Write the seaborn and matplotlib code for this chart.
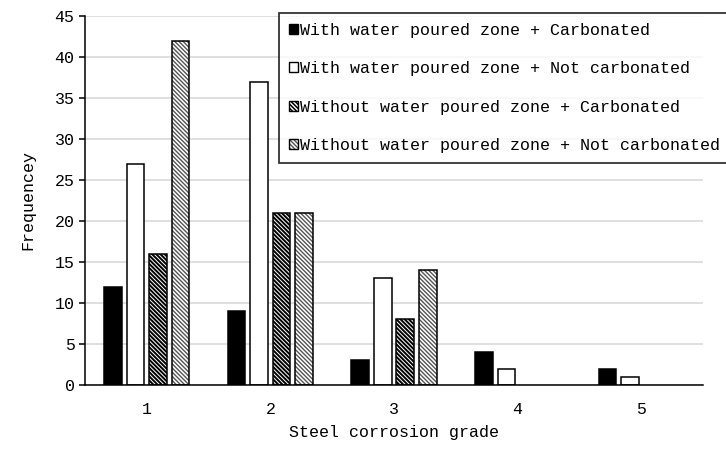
import matplotlib
matplotlib.use("Agg")
import matplotlib.pyplot as plt
from matplotlib.patches import Patch
from matplotlib.colors import to_rgba
import seaborn as sns
import pandas as pd

grades = ["1", "2", "3", "4", "5"]
series = [
    "With water poured zone + Carbonated",
    "With water poured zone + Not carbonated",
    "Without water poured zone + Carbonated",
    "Without water poured zone + Not carbonated",
]
with_carb = [12, 9, 3, 4, 2]
with_not_carb = [27, 37, 13, 2, 1]
without_carb = [16, 21, 8, 0, 0]
without_not_carb = [42, 21, 14, 0, 0]

df = pd.DataFrame({
    "grade": grades * 4,
    "series": [s for s in series for _ in grades],
    "count": with_carb + with_not_carb + without_carb + without_not_carb,
})

sns.set_theme(style="white")
plt.rcParams["font.family"] = ["Liberation Mono", "DejaVu Sans Mono"]
plt.rcParams["hatch.linewidth"] = 1.0

# face, hatch, hatch colour, hatch width per series
styles = [
    ("black", "", "black", 1.0),
    ("white", "", "black", 1.0),
    ("black", "\\" * 8, "white", 0.7),
    ("white", "\\" * 8, "#555555", 1.0),
]


def style_patch(p, fc, hatch, hc, hw):
    p.set_facecolor(fc)
    p.set_edgecolor("black")
    p.set_hatch(hatch)
    p._hatch_color = to_rgba(hc)
    if hasattr(p, "set_hatch_linewidth"):
        p.set_hatch_linewidth(hw)


fig = plt.figure(figsize=(7.26, 4.5), dpi=100)
ax = fig.add_axes([85 / 726, 1 - 385 / 450, (703 - 85) / 726, (385 - 16) / 450])

sns.barplot(data=df, x="grade", y="count", hue="series", hue_order=series,
            width=0.73, gap=0.22, legend=False, ax=ax)

for cont, st in zip(ax.containers, styles):
    for p in cont:
        style_patch(p, *st)
        p.set_linewidth(1.1)
        if p.get_height() == 0:
            p.set_visible(False)

ax.set_ylim(0, 45)
ax.set_xlim(-0.5, 4.5)
ax.set_yticks(range(0, 46, 5))
ax.yaxis.grid(True, color="#d9d9d9", linewidth=1.2)
ax.set_axisbelow(True)
for s in ["top", "right"]:
    ax.spines[s].set_visible(False)
for s in ["left", "bottom"]:
    ax.spines[s].set_color("black")
    ax.spines[s].set_linewidth(1.1)

ax.set_xticks([i - 0.5 for i in range(6)], minor=True)
ax.tick_params(axis="x", which="major", length=0, pad=12, labelsize=12, colors="black")
ax.tick_params(axis="x", which="minor", length=5, width=1.1, color="black", direction="out")
ax.tick_params(axis="y", length=4, width=1.1, color="black", direction="out",
               left=True, labelsize=12, labelcolor="black")

ax.set_xlabel("Steel corrosion grade", fontsize=12, color="black", labelpad=6)
ax.set_ylabel("Frequencey", fontsize=12, color="black", labelpad=14)

handles = []
for st in styles:
    h = Patch(linewidth=1.0)
    style_patch(h, *st)
    handles.append(h)

leg = fig.legend(handles, series, loc="upper left", bbox_to_anchor=(279 / 726, 1 - 13 / 450),
                 frameon=True, fancybox=False, fontsize=12, handlelength=0.55,
                 handleheight=0.55, handletextpad=0.1, labelspacing=1.4,
                 borderpad=0.6, borderaxespad=0)
leg.get_frame().set_edgecolor("black")
leg.get_frame().set_linewidth(1.3)
for t in leg.get_texts():
    t.set_color("black")

fig.savefig("out.png", dpi=100)
